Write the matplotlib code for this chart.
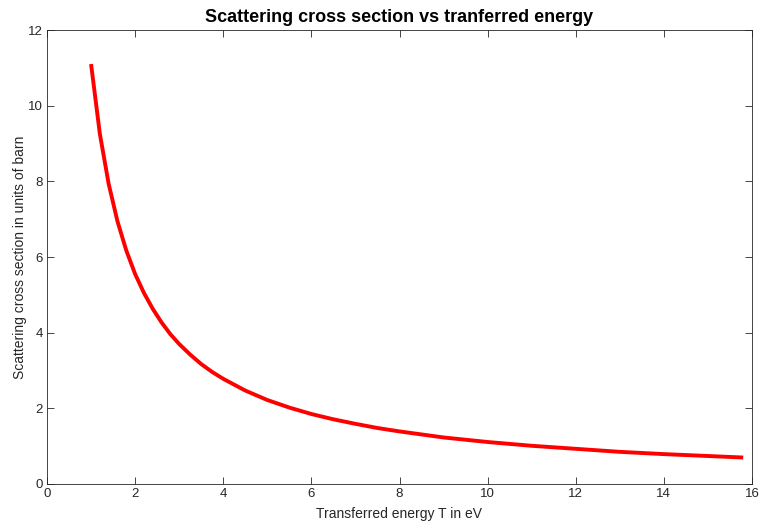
import matplotlib
matplotlib.use("Agg")
import matplotlib.pyplot as plt

energy_T = [1.0, 1.2, 1.4, 1.6, 1.8, 2.0, 2.2, 2.4, 2.6, 2.8, 3.0, 3.25, 3.5, 3.75,
            4.0, 4.5, 5.0, 5.5, 6.0, 6.5, 7.0, 7.5, 8.0, 9.0, 10.0, 11.0, 12.0,
            13.0, 14.0, 15.0, 15.8]
cross_section = [11.10, 9.25, 7.93, 6.94, 6.17, 5.55, 5.05, 4.63, 4.27, 3.96, 3.70,
                 3.42, 3.17, 2.96, 2.78, 2.47, 2.22, 2.02, 1.85, 1.71, 1.59, 1.48,
                 1.39, 1.23, 1.11, 1.01, 0.93, 0.85, 0.79, 0.74, 0.70]
x_ticks = [0, 2, 4, 6, 8, 10, 12, 14, 16]
y_ticks = [0, 2, 4, 6, 8, 10, 12]

plt.rcParams['font.family'] = ['Liberation Sans', 'DejaVu Sans']

fig = plt.figure(figsize=(7.63, 5.30), dpi=100)
ax = fig.add_axes([47/763, 46/530, 705/763, 454/530])
ax.plot(energy_T, cross_section, color='#ff0000', linewidth=2.8, solid_capstyle='butt')
ax.set_xlim(0, 16)
ax.set_ylim(0, 12)
ax.set_xticks(x_ticks)
ax.set_yticks(y_ticks)
ax.tick_params(direction='in', length=5, width=0.6, colors='#262626', labelsize=9.5,
               top=True, right=True, pad=3)
for s in ax.spines.values():
    s.set_color('#262626')
    s.set_linewidth(0.6)
ax.set_title('Scattering cross section vs tranferred energy', fontsize=13,
             fontweight='bold', pad=6)
ax.set_xlabel('Transferred energy T in eV', fontsize=10, color='#262626', labelpad=5)
ax.set_ylabel('Scattering cross section in units of barn', fontsize=10, color='#262626', labelpad=1)
fig.savefig('out.png', dpi=100)
